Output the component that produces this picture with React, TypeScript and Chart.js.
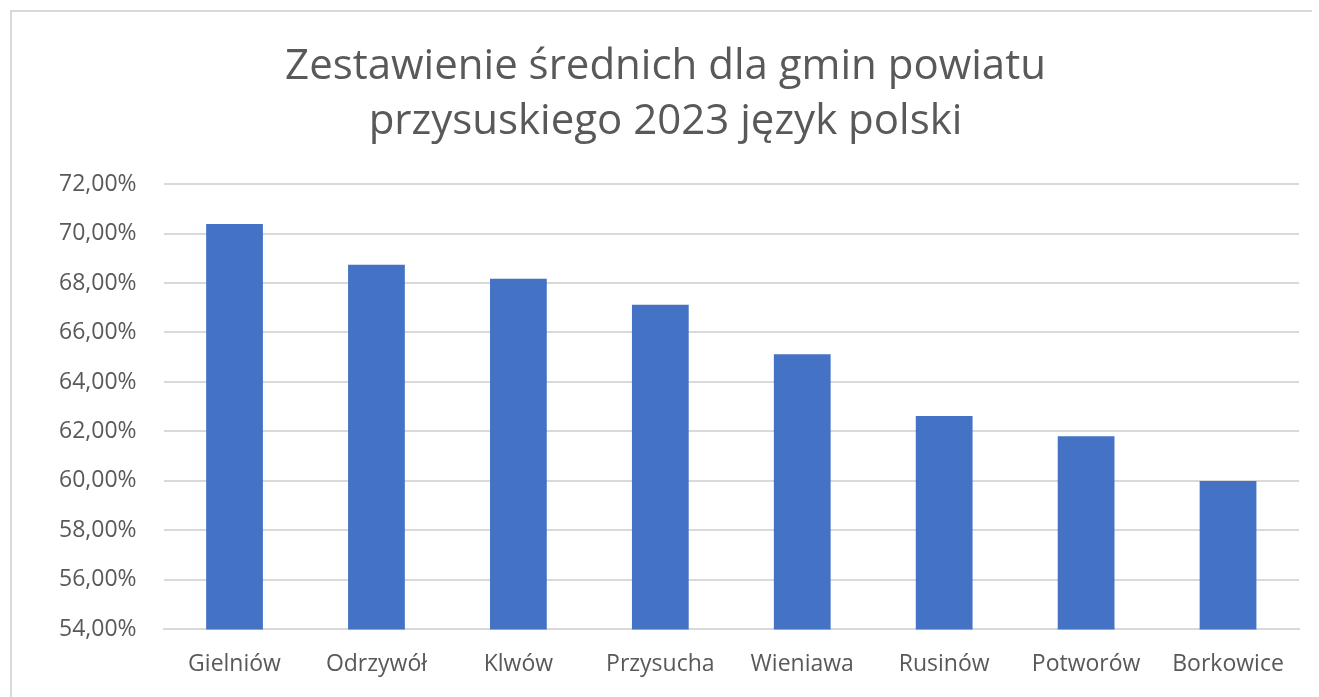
import React, { useEffect, useRef } from "react";
import { Chart, registerables } from "chart.js";

Chart.register(...registerables);

const categories = ["Gielniów", "Odrzywół", "Klwów", "Przysucha", "Wieniawa", "Rusinów", "Potworów", "Borkowice"];
const values = [70.38, 68.74, 68.17, 67.12, 65.12, 62.62, 61.81, 60.0];
const titleLines = ["Zestawienie średnich dla gmin powiatu", "przysuskiego 2023 język polski"];
const yMin = 54;
const yMax = 72;
const yStep = 2;

const FONT = "'Open Sans', sans-serif";

export default function App() {
  const ref = useRef<HTMLCanvasElement | null>(null);
  useEffect(() => {
    if (!ref.current) return;
    const chart = new Chart(ref.current, {
      type: "bar",
      data: {
        labels: categories,
        datasets: [
          {
            data: values,
            backgroundColor: "#4472C4",
            borderWidth: 0,
            barPercentage: 0.4,
            categoryPercentage: 1,
          },
        ],
      },
      options: {
        animation: false,
        responsive: false,
        maintainAspectRatio: false,
        layout: { padding: { left: 20, right: 11, top: 28, bottom: 0 } },
        plugins: {
          legend: { display: false },
          tooltip: { enabled: false },
          title: {
            display: true,
            text: titleLines,
            color: "#595959",
            font: { family: FONT, size: 42, weight: "normal", lineHeight: 1.31 },
            padding: { top: 0, bottom: 34 },
          },
        },
        scales: {
          x: {
            grid: { display: false, drawTicks: false },
            border: { display: true, color: "#d9d9d9", width: 2 },
            ticks: {
              color: "#595959",
              font: { family: FONT, size: 23 },
              padding: 21,
              maxRotation: 0,
              autoSkip: false,
            },
          },
          y: {
            min: yMin,
            max: yMax,
            grid: { color: "#d9d9d9", lineWidth: 2, drawTicks: false },
            border: { display: false },
            ticks: {
              stepSize: yStep,
              color: "#595959",
              font: { family: FONT, size: 23 },
              padding: 27,
              callback: (v: any) => Number(v).toFixed(2).replace(".", ",") + "%",
            },
          },
        },
      },
    });
    return () => chart.destroy();
  }, []);
  return (
    <div
      style={{
        position: "absolute",
        left: 10,
        top: 10,
        width: 1300,
        height: 700,
        borderLeft: "2px solid #d9d9d9",
        borderTop: "2px solid #d9d9d9",
        background: "#fff",
      }}
    >
      <canvas ref={ref} width={1298} height={687} style={{ display: "block" }} />
    </div>
  );
}
